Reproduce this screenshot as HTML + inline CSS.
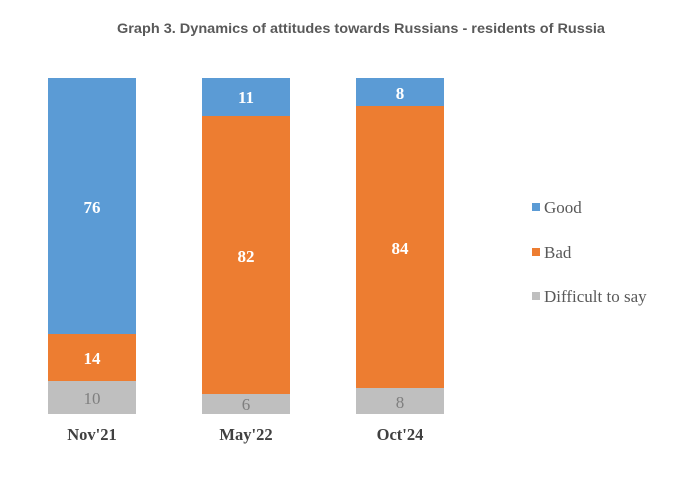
<!DOCTYPE html>
<html>
<head>
<meta charset="utf-8">
<style>
html,body{margin:0;padding:0;background:#fff;}
svg{display:block;}
</style>
</head>
<body>
<svg width="690" height="481" viewBox="0 0 690 481" xmlns="http://www.w3.org/2000/svg">
<rect width="690" height="481" fill="#fff"/>
<text x="361" y="33" text-anchor="middle" font-family="Liberation Sans, sans-serif" font-weight="bold" font-size="13.5" fill="#595959" textLength="488" lengthAdjust="spacingAndGlyphs">Graph 3. Dynamics of attitudes towards Russians - residents of Russia</text>

<!-- Bar 1 -->
<rect x="48" y="78" width="88" height="256" fill="#5b9bd5"/>
<rect x="48" y="334" width="88" height="47" fill="#ed7d31"/>
<rect x="48" y="381" width="88" height="33" fill="#bfbfbf"/>
<!-- Bar 2 -->
<rect x="202" y="78" width="88" height="38" fill="#5b9bd5"/>
<rect x="202" y="116" width="88" height="278" fill="#ed7d31"/>
<rect x="202" y="394" width="88" height="20" fill="#bfbfbf"/>
<!-- Bar 3 -->
<rect x="356" y="78" width="88" height="28" fill="#5b9bd5"/>
<rect x="356" y="106" width="88" height="282" fill="#ed7d31"/>
<rect x="356" y="388" width="88" height="26" fill="#bfbfbf"/>

<g font-family="Liberation Serif, serif" font-weight="bold" font-size="17" fill="#fff" text-anchor="middle">
<text x="92" y="213">76</text>
<text x="92" y="364">14</text>
<text x="246" y="103">11</text>
<text x="246" y="262">82</text>
<text x="400" y="99">8</text>
<text x="400" y="254">84</text>
</g>
<g font-family="Liberation Serif, serif" font-size="17" fill="#7f7f7f" text-anchor="middle">
<text x="92" y="404">10</text>
<text x="246" y="410">6</text>
<text x="400" y="408">8</text>
</g>
<g font-family="Liberation Serif, serif" font-weight="bold" font-size="16.5" fill="#404040" text-anchor="middle">
<text x="92" y="440">Nov'21</text>
<text x="246" y="440">May'22</text>
<text x="400" y="440">Oct'24</text>
</g>

<!-- Legend -->
<rect x="532" y="203" width="8" height="8" fill="#5b9bd5"/>
<rect x="532" y="248" width="8" height="8" fill="#ed7d31"/>
<rect x="532" y="292" width="8" height="8" fill="#bfbfbf"/>
<g font-family="Liberation Serif, serif" font-size="17" fill="#595959">
<text x="544" y="213">Good</text>
<text x="544" y="258">Bad</text>
<text x="544" y="302">Difficult to say</text>
</g>
</svg>
</body>
</html>
